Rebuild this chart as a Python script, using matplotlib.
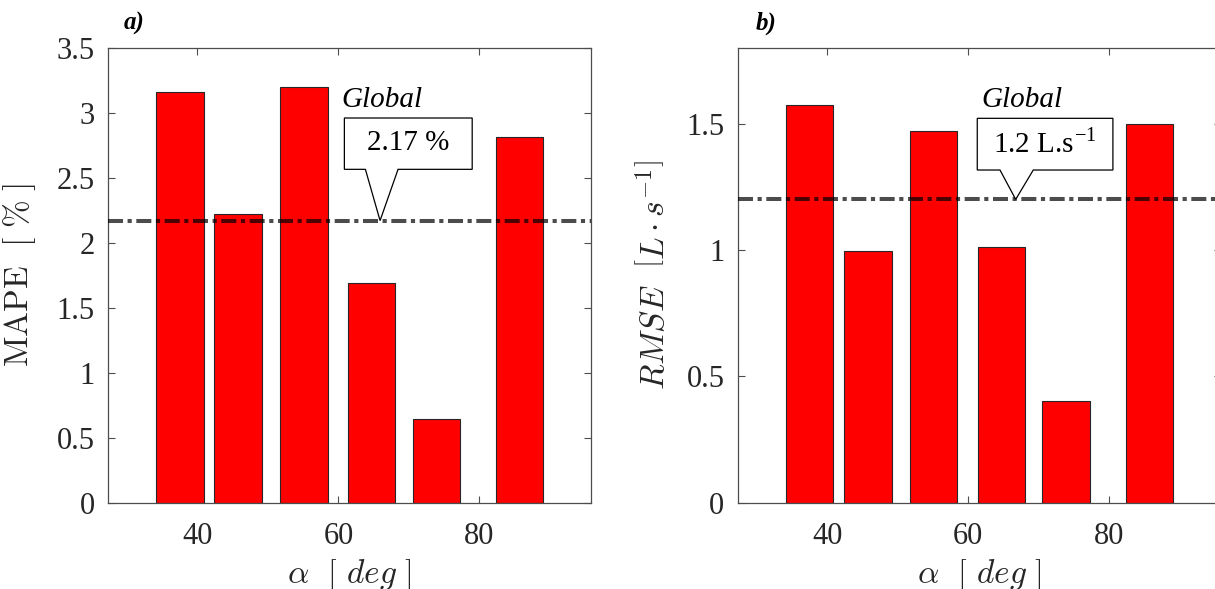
import matplotlib
matplotlib.use('Agg')
import matplotlib.pyplot as plt
from matplotlib.patches import Polygon

plt.rcParams['font.family'] = ['Liberation Serif', 'DejaVu Serif']
plt.rcParams['mathtext.fontset'] = 'cm'
plt.rcParams['lines.scale_dashes'] = False

# data
alpha = [37.5, 45.8, 55.1, 64.7, 73.9, 85.7]
mape = [3.16, 2.22, 3.195, 1.69, 0.644, 2.815]
rmse = [1.573, 0.994, 1.472, 1.012, 0.403, 1.498]
mape_global = 2.17
rmse_global = 1.2
bar_width = 6.75

gray = '0.3'


def style_axes(ax, ylim, yticks):
    ax.set_xlim(27.4, 95.8)
    ax.set_ylim(*ylim)
    ax.set_xticks([40, 60, 80])
    ax.set_yticks(yticks)
    ax.set_yticklabels([f'{t:g}' for t in yticks])
    ax.tick_params(direction='in', length=5, width=0.8, color=gray,
                   labelsize=22, labelcolor='#262626', top=True, right=True)
    ax.tick_params(axis='y', pad=10)
    ax.tick_params(axis='x', pad=14)
    for s in ax.spines.values():
        s.set_color(gray)
        s.set_linewidth(0.9)


def callout(ax, box, base, tip, text):
    # box = (x0, x1, y0, y1), base = (bx0, bx1) in axes fraction
    x0, x1, y0, y1 = box
    pts = [(x0, y0), (base[0], y0), tip, (base[1], y0), (x1, y0),
           (x1, y1), (x0, y1)]
    ax.add_patch(Polygon(pts, closed=True, transform=ax.transAxes,
                         facecolor='white', edgecolor='black', lw=0.9,
                         zorder=5, clip_on=False))
    ax.text((x0 + x1) / 2, (y0 + y1) / 2 + 0.002, text, transform=ax.transAxes,
            ha='center', va='center', fontsize=21, zorder=6)


fig = plt.figure(figsize=(12.15, 5.89), dpi=100)
ax1 = fig.add_axes([0.0893, 0.1465, 0.397, 0.7725])
ax2 = fig.add_axes([0.6077, 0.1465, 0.397, 0.7725])

line_kw = dict(color='black', alpha=0.7, lw=2.9, dashes=(10.8, 3.3, 3.0, 3.3), zorder=4)

# a) MAPE
ax1.bar(alpha, mape, width=bar_width, color='#ff0000', edgecolor='#262626', lw=0.8, zorder=2)
ax1.axhline(mape_global, **line_kw)
style_axes(ax1, (0, 3.5), [0, 0.5, 1, 1.5, 2, 2.5, 3, 3.5])
ax1.set_ylabel(r'$\mathrm{MAPE}\ \ [\ \%\ ]$', fontsize=24, color='#262626')
ax1.yaxis.set_label_coords(-0.146, 0.5)
ax1.set_xlabel(r'$\alpha\ \ \left[\ deg\ \right]$', fontsize=24, color='#262626')
ax1.xaxis.set_label_coords(0.5, -0.12)
ax1.text(0.483, 0.885, 'Global', style='italic', fontsize=21,
         transform=ax1.transAxes, ha='left', va='center')
callout(ax1, (0.489, 0.754, 0.7327, 0.8455), (0.5326, 0.6003),
        (0.563, mape_global / 3.5), f'{mape_global:.2f} %')
fig.text(0.102, 0.961, 'a)', fontsize=18, fontweight='bold', style='italic',
         ha='left', va='center')

# b) RMSE
ax2.bar(alpha, rmse, width=bar_width, color='#ff0000', edgecolor='#262626', lw=0.8, zorder=2)
ax2.axhline(rmse_global, **line_kw)
style_axes(ax2, (0, 1.8), [0, 0.5, 1, 1.5])
ax2.set_ylabel(r'$RMSE\ \ \left[L\cdot s^{-1}\right]$', fontsize=24, color='#262626')
ax2.yaxis.set_label_coords(-0.138, 0.5)
ax2.set_xlabel(r'$\alpha\ \ \left[\ deg\ \right]$', fontsize=24, color='#262626')
ax2.xaxis.set_label_coords(0.5, -0.12)
ax2.text(0.503, 0.885, 'Global', style='italic', fontsize=21,
         transform=ax2.transAxes, ha='left', va='center')
callout(ax2, (0.4953, 0.7765, 0.7312, 0.8448), (0.5424, 0.6114),
        (0.575, rmse_global / 1.8), f'{rmse_global:.1f} L.s' + r'$^{\mathregular{-1}}$')
fig.text(0.622, 0.961, 'b)', fontsize=18, fontweight='bold', style='italic',
         ha='left', va='center')

fig.savefig('out.png', dpi=100)
plt.close(fig)
